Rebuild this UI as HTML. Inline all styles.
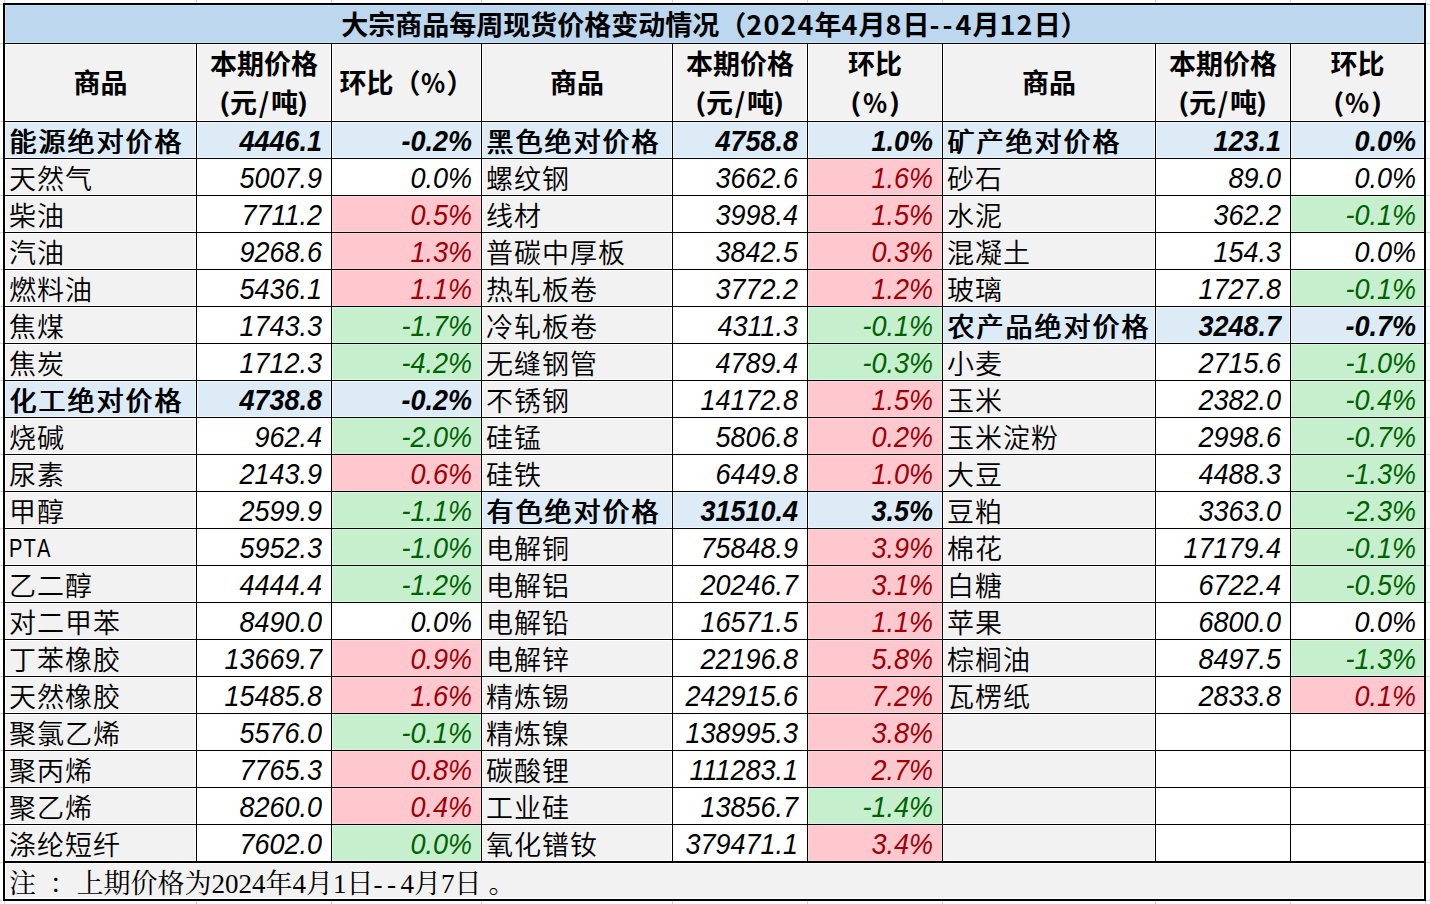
<!DOCTYPE html>
<html lang="zh-CN"><head><meta charset="utf-8">
<title>大宗商品每周现货价格变动情况</title>
<style>
html,body{margin:0;padding:0;background:#fff}
body{width:1430px;height:904px;position:relative;overflow:hidden;color:#000;
 font-family:"Liberation Sans","Noto Sans CJK SC",sans-serif}
.b{position:absolute}
.t{position:absolute;white-space:nowrap;line-height:37px;height:37px;font-size:27px}
.nm{font-family:"Noto Sans CJK SC","Liberation Sans",sans-serif;text-align:left;letter-spacing:1px;font-weight:350}
.nmh{font-family:"Noto Sans CJK SC","Liberation Sans",sans-serif;text-align:left;letter-spacing:2px;text-shadow:1px 0 0 #000}
.lat{display:inline-block;font-family:"Liberation Sans",sans-serif;font-size:25.8px;letter-spacing:1.4px;
 transform:scaleX(.78);transform-origin:0 50%;position:relative;top:-2px;font-kerning:none}
.num{font-family:"Liberation Sans",sans-serif;font-style:italic;text-align:right;transform:scaleY(1.085);transform-origin:50% 8px}
.numh{font-family:"Liberation Sans",sans-serif;font-style:italic;font-weight:700;text-align:right;transform:scaleY(1.085);transform-origin:50% 8px}
.hd{position:absolute;text-align:center;font-weight:700;font-size:27px;white-space:nowrap;
 font-family:"Noto Sans CJK SC","Liberation Sans",sans-serif}
.title{position:absolute;text-align:center;font-weight:700;font-size:27px;white-space:nowrap;
 font-family:"Noto Sans CJK SC","Liberation Sans",sans-serif}
.foot{position:absolute;white-space:nowrap;font-size:27px;font-family:"Liberation Serif","Noto Serif CJK SC",serif}
.sp{display:inline-block;width:13.5px}
.dg{letter-spacing:1.1px}
.hy{letter-spacing:3px}
.sl{padding:0 1.9px}
.l2{position:relative;top:1px}
.pr{display:inline-block;font-size:25px;transform:scaleX(1.2);position:relative;top:-1px}
.pc{display:inline-block;transform:scaleX(.93)}
.end{padding-left:7px}
.dd{letter-spacing:4.5px}

</style></head><body>
<div class="b" style="left:0px;top:4px;width:3px;height:1px;background:#d4d4d4"></div>
<div class="b" style="left:1426px;top:4px;width:4px;height:1px;background:#d4d4d4"></div>
<div class="b" style="left:0px;top:43px;width:3px;height:1px;background:#d4d4d4"></div>
<div class="b" style="left:1426px;top:43px;width:4px;height:1px;background:#d4d4d4"></div>
<div class="b" style="left:0px;top:121px;width:3px;height:1px;background:#d4d4d4"></div>
<div class="b" style="left:1426px;top:121px;width:4px;height:1px;background:#d4d4d4"></div>
<div class="b" style="left:0px;top:158px;width:3px;height:1px;background:#d4d4d4"></div>
<div class="b" style="left:1426px;top:158px;width:4px;height:1px;background:#d4d4d4"></div>
<div class="b" style="left:0px;top:195px;width:3px;height:1px;background:#d4d4d4"></div>
<div class="b" style="left:1426px;top:195px;width:4px;height:1px;background:#d4d4d4"></div>
<div class="b" style="left:0px;top:232px;width:3px;height:1px;background:#d4d4d4"></div>
<div class="b" style="left:1426px;top:232px;width:4px;height:1px;background:#d4d4d4"></div>
<div class="b" style="left:0px;top:269px;width:3px;height:1px;background:#d4d4d4"></div>
<div class="b" style="left:1426px;top:269px;width:4px;height:1px;background:#d4d4d4"></div>
<div class="b" style="left:0px;top:306px;width:3px;height:1px;background:#d4d4d4"></div>
<div class="b" style="left:1426px;top:306px;width:4px;height:1px;background:#d4d4d4"></div>
<div class="b" style="left:0px;top:343px;width:3px;height:1px;background:#d4d4d4"></div>
<div class="b" style="left:1426px;top:343px;width:4px;height:1px;background:#d4d4d4"></div>
<div class="b" style="left:0px;top:380px;width:3px;height:1px;background:#d4d4d4"></div>
<div class="b" style="left:1426px;top:380px;width:4px;height:1px;background:#d4d4d4"></div>
<div class="b" style="left:0px;top:417px;width:3px;height:1px;background:#d4d4d4"></div>
<div class="b" style="left:1426px;top:417px;width:4px;height:1px;background:#d4d4d4"></div>
<div class="b" style="left:0px;top:454px;width:3px;height:1px;background:#d4d4d4"></div>
<div class="b" style="left:1426px;top:454px;width:4px;height:1px;background:#d4d4d4"></div>
<div class="b" style="left:0px;top:491px;width:3px;height:1px;background:#d4d4d4"></div>
<div class="b" style="left:1426px;top:491px;width:4px;height:1px;background:#d4d4d4"></div>
<div class="b" style="left:0px;top:528px;width:3px;height:1px;background:#d4d4d4"></div>
<div class="b" style="left:1426px;top:528px;width:4px;height:1px;background:#d4d4d4"></div>
<div class="b" style="left:0px;top:565px;width:3px;height:1px;background:#d4d4d4"></div>
<div class="b" style="left:1426px;top:565px;width:4px;height:1px;background:#d4d4d4"></div>
<div class="b" style="left:0px;top:602px;width:3px;height:1px;background:#d4d4d4"></div>
<div class="b" style="left:1426px;top:602px;width:4px;height:1px;background:#d4d4d4"></div>
<div class="b" style="left:0px;top:639px;width:3px;height:1px;background:#d4d4d4"></div>
<div class="b" style="left:1426px;top:639px;width:4px;height:1px;background:#d4d4d4"></div>
<div class="b" style="left:0px;top:676px;width:3px;height:1px;background:#d4d4d4"></div>
<div class="b" style="left:1426px;top:676px;width:4px;height:1px;background:#d4d4d4"></div>
<div class="b" style="left:0px;top:713px;width:3px;height:1px;background:#d4d4d4"></div>
<div class="b" style="left:1426px;top:713px;width:4px;height:1px;background:#d4d4d4"></div>
<div class="b" style="left:0px;top:750px;width:3px;height:1px;background:#d4d4d4"></div>
<div class="b" style="left:1426px;top:750px;width:4px;height:1px;background:#d4d4d4"></div>
<div class="b" style="left:0px;top:787px;width:3px;height:1px;background:#d4d4d4"></div>
<div class="b" style="left:1426px;top:787px;width:4px;height:1px;background:#d4d4d4"></div>
<div class="b" style="left:0px;top:824px;width:3px;height:1px;background:#d4d4d4"></div>
<div class="b" style="left:1426px;top:824px;width:4px;height:1px;background:#d4d4d4"></div>
<div class="b" style="left:0px;top:862px;width:3px;height:1px;background:#d4d4d4"></div>
<div class="b" style="left:1426px;top:862px;width:4px;height:1px;background:#d4d4d4"></div>
<div class="b" style="left:0px;top:900px;width:3px;height:1px;background:#d4d4d4"></div>
<div class="b" style="left:1426px;top:900px;width:4px;height:1px;background:#d4d4d4"></div>
<div class="b" style="left:4px;top:0px;width:1px;height:3px;background:#d4d4d4"></div>
<div class="b" style="left:4px;top:901px;width:1px;height:3px;background:#d4d4d4"></div>
<div class="b" style="left:196px;top:0px;width:1px;height:3px;background:#d4d4d4"></div>
<div class="b" style="left:196px;top:901px;width:1px;height:3px;background:#d4d4d4"></div>
<div class="b" style="left:331px;top:0px;width:1px;height:3px;background:#d4d4d4"></div>
<div class="b" style="left:331px;top:901px;width:1px;height:3px;background:#d4d4d4"></div>
<div class="b" style="left:481px;top:0px;width:1px;height:3px;background:#d4d4d4"></div>
<div class="b" style="left:481px;top:901px;width:1px;height:3px;background:#d4d4d4"></div>
<div class="b" style="left:672px;top:0px;width:1px;height:3px;background:#d4d4d4"></div>
<div class="b" style="left:672px;top:901px;width:1px;height:3px;background:#d4d4d4"></div>
<div class="b" style="left:807px;top:0px;width:1px;height:3px;background:#d4d4d4"></div>
<div class="b" style="left:807px;top:901px;width:1px;height:3px;background:#d4d4d4"></div>
<div class="b" style="left:942px;top:0px;width:1px;height:3px;background:#d4d4d4"></div>
<div class="b" style="left:942px;top:901px;width:1px;height:3px;background:#d4d4d4"></div>
<div class="b" style="left:1155px;top:0px;width:1px;height:3px;background:#d4d4d4"></div>
<div class="b" style="left:1155px;top:901px;width:1px;height:3px;background:#d4d4d4"></div>
<div class="b" style="left:1290px;top:0px;width:1px;height:3px;background:#d4d4d4"></div>
<div class="b" style="left:1290px;top:901px;width:1px;height:3px;background:#d4d4d4"></div>
<div class="b" style="left:1425px;top:0px;width:1px;height:3px;background:#d4d4d4"></div>
<div class="b" style="left:1425px;top:901px;width:1px;height:3px;background:#d4d4d4"></div>
<div class="b" style="left:5px;top:5px;width:1419px;height:38px;background:#BDD7EE;box-shadow:inset 0 0 0 1px #C9E2F8"></div>
<div class="b" style="left:5px;top:44px;width:191px;height:77px;background:#F2F2F2;box-shadow:inset 0 0 0 1px #FFFFFF"></div>
<div class="b" style="left:197px;top:44px;width:134px;height:77px;background:#F2F2F2;box-shadow:inset 0 0 0 1px #FFFFFF"></div>
<div class="b" style="left:332px;top:44px;width:149px;height:77px;background:#F2F2F2;box-shadow:inset 0 0 0 1px #FFFFFF"></div>
<div class="b" style="left:482px;top:44px;width:190px;height:77px;background:#F2F2F2;box-shadow:inset 0 0 0 1px #FFFFFF"></div>
<div class="b" style="left:673px;top:44px;width:134px;height:77px;background:#F2F2F2;box-shadow:inset 0 0 0 1px #FFFFFF"></div>
<div class="b" style="left:808px;top:44px;width:134px;height:77px;background:#F2F2F2;box-shadow:inset 0 0 0 1px #FFFFFF"></div>
<div class="b" style="left:943px;top:44px;width:212px;height:77px;background:#F2F2F2;box-shadow:inset 0 0 0 1px #FFFFFF"></div>
<div class="b" style="left:1156px;top:44px;width:134px;height:77px;background:#F2F2F2;box-shadow:inset 0 0 0 1px #FFFFFF"></div>
<div class="b" style="left:1291px;top:44px;width:133px;height:77px;background:#F2F2F2;box-shadow:inset 0 0 0 1px #FFFFFF"></div>
<div class="b" style="left:5px;top:863px;width:1419px;height:36px;background:#F2F2F2;box-shadow:inset 0 0 0 1px #FFFFFF"></div>
<div class="b" style="left:5px;top:122px;width:191px;height:36px;background:#DDEBF7;box-shadow:inset 0 0 0 1px #ECF7FF"></div>
<div class="b" style="left:197px;top:122px;width:134px;height:36px;background:#DDEBF7;box-shadow:inset 0 0 0 1px #ECF7FF"></div>
<div class="b" style="left:332px;top:122px;width:149px;height:36px;background:#DDEBF7;box-shadow:inset 0 0 0 1px #ECF7FF"></div>
<div class="b" style="left:5px;top:159px;width:191px;height:36px;background:#F2F2F2;box-shadow:inset 0 0 0 1px #FFFFFF"></div>
<div class="b" style="left:5px;top:196px;width:191px;height:36px;background:#F2F2F2;box-shadow:inset 0 0 0 1px #FFFFFF"></div>
<div class="b" style="left:332px;top:196px;width:149px;height:36px;background:#FFC7CE;box-shadow:inset 0 0 0 1px #FFD3D9"></div>
<div class="b" style="left:5px;top:233px;width:191px;height:36px;background:#F2F2F2;box-shadow:inset 0 0 0 1px #FFFFFF"></div>
<div class="b" style="left:332px;top:233px;width:149px;height:36px;background:#FFC7CE;box-shadow:inset 0 0 0 1px #FFD3D9"></div>
<div class="b" style="left:5px;top:270px;width:191px;height:36px;background:#F2F2F2;box-shadow:inset 0 0 0 1px #FFFFFF"></div>
<div class="b" style="left:332px;top:270px;width:149px;height:36px;background:#FFC7CE;box-shadow:inset 0 0 0 1px #FFD3D9"></div>
<div class="b" style="left:5px;top:307px;width:191px;height:36px;background:#F2F2F2;box-shadow:inset 0 0 0 1px #FFFFFF"></div>
<div class="b" style="left:332px;top:307px;width:149px;height:36px;background:#C6EFCE;box-shadow:inset 0 0 0 1px #D3F9DA"></div>
<div class="b" style="left:5px;top:344px;width:191px;height:36px;background:#F2F2F2;box-shadow:inset 0 0 0 1px #FFFFFF"></div>
<div class="b" style="left:332px;top:344px;width:149px;height:36px;background:#C6EFCE;box-shadow:inset 0 0 0 1px #D3F9DA"></div>
<div class="b" style="left:5px;top:381px;width:191px;height:36px;background:#DDEBF7;box-shadow:inset 0 0 0 1px #ECF7FF"></div>
<div class="b" style="left:197px;top:381px;width:134px;height:36px;background:#DDEBF7;box-shadow:inset 0 0 0 1px #ECF7FF"></div>
<div class="b" style="left:332px;top:381px;width:149px;height:36px;background:#DDEBF7;box-shadow:inset 0 0 0 1px #ECF7FF"></div>
<div class="b" style="left:5px;top:418px;width:191px;height:36px;background:#F2F2F2;box-shadow:inset 0 0 0 1px #FFFFFF"></div>
<div class="b" style="left:332px;top:418px;width:149px;height:36px;background:#C6EFCE;box-shadow:inset 0 0 0 1px #D3F9DA"></div>
<div class="b" style="left:5px;top:455px;width:191px;height:36px;background:#F2F2F2;box-shadow:inset 0 0 0 1px #FFFFFF"></div>
<div class="b" style="left:332px;top:455px;width:149px;height:36px;background:#FFC7CE;box-shadow:inset 0 0 0 1px #FFD3D9"></div>
<div class="b" style="left:5px;top:492px;width:191px;height:36px;background:#F2F2F2;box-shadow:inset 0 0 0 1px #FFFFFF"></div>
<div class="b" style="left:332px;top:492px;width:149px;height:36px;background:#C6EFCE;box-shadow:inset 0 0 0 1px #D3F9DA"></div>
<div class="b" style="left:5px;top:529px;width:191px;height:36px;background:#F2F2F2;box-shadow:inset 0 0 0 1px #FFFFFF"></div>
<div class="b" style="left:332px;top:529px;width:149px;height:36px;background:#C6EFCE;box-shadow:inset 0 0 0 1px #D3F9DA"></div>
<div class="b" style="left:5px;top:566px;width:191px;height:36px;background:#F2F2F2;box-shadow:inset 0 0 0 1px #FFFFFF"></div>
<div class="b" style="left:332px;top:566px;width:149px;height:36px;background:#C6EFCE;box-shadow:inset 0 0 0 1px #D3F9DA"></div>
<div class="b" style="left:5px;top:603px;width:191px;height:36px;background:#F2F2F2;box-shadow:inset 0 0 0 1px #FFFFFF"></div>
<div class="b" style="left:5px;top:640px;width:191px;height:36px;background:#F2F2F2;box-shadow:inset 0 0 0 1px #FFFFFF"></div>
<div class="b" style="left:332px;top:640px;width:149px;height:36px;background:#FFC7CE;box-shadow:inset 0 0 0 1px #FFD3D9"></div>
<div class="b" style="left:5px;top:677px;width:191px;height:36px;background:#F2F2F2;box-shadow:inset 0 0 0 1px #FFFFFF"></div>
<div class="b" style="left:332px;top:677px;width:149px;height:36px;background:#FFC7CE;box-shadow:inset 0 0 0 1px #FFD3D9"></div>
<div class="b" style="left:5px;top:714px;width:191px;height:36px;background:#F2F2F2;box-shadow:inset 0 0 0 1px #FFFFFF"></div>
<div class="b" style="left:332px;top:714px;width:149px;height:36px;background:#C6EFCE;box-shadow:inset 0 0 0 1px #D3F9DA"></div>
<div class="b" style="left:5px;top:751px;width:191px;height:36px;background:#F2F2F2;box-shadow:inset 0 0 0 1px #FFFFFF"></div>
<div class="b" style="left:332px;top:751px;width:149px;height:36px;background:#FFC7CE;box-shadow:inset 0 0 0 1px #FFD3D9"></div>
<div class="b" style="left:5px;top:788px;width:191px;height:36px;background:#F2F2F2;box-shadow:inset 0 0 0 1px #FFFFFF"></div>
<div class="b" style="left:332px;top:788px;width:149px;height:36px;background:#FFC7CE;box-shadow:inset 0 0 0 1px #FFD3D9"></div>
<div class="b" style="left:5px;top:825px;width:191px;height:36px;background:#F2F2F2;box-shadow:inset 0 0 0 1px #FFFFFF"></div>
<div class="b" style="left:332px;top:825px;width:149px;height:36px;background:#C6EFCE;box-shadow:inset 0 0 0 1px #D3F9DA"></div>
<div class="b" style="left:482px;top:122px;width:190px;height:36px;background:#DDEBF7;box-shadow:inset 0 0 0 1px #ECF7FF"></div>
<div class="b" style="left:673px;top:122px;width:134px;height:36px;background:#DDEBF7;box-shadow:inset 0 0 0 1px #ECF7FF"></div>
<div class="b" style="left:808px;top:122px;width:134px;height:36px;background:#DDEBF7;box-shadow:inset 0 0 0 1px #ECF7FF"></div>
<div class="b" style="left:482px;top:159px;width:190px;height:36px;background:#F2F2F2;box-shadow:inset 0 0 0 1px #FFFFFF"></div>
<div class="b" style="left:808px;top:159px;width:134px;height:36px;background:#FFC7CE;box-shadow:inset 0 0 0 1px #FFD3D9"></div>
<div class="b" style="left:482px;top:196px;width:190px;height:36px;background:#F2F2F2;box-shadow:inset 0 0 0 1px #FFFFFF"></div>
<div class="b" style="left:808px;top:196px;width:134px;height:36px;background:#FFC7CE;box-shadow:inset 0 0 0 1px #FFD3D9"></div>
<div class="b" style="left:482px;top:233px;width:190px;height:36px;background:#F2F2F2;box-shadow:inset 0 0 0 1px #FFFFFF"></div>
<div class="b" style="left:808px;top:233px;width:134px;height:36px;background:#FFC7CE;box-shadow:inset 0 0 0 1px #FFD3D9"></div>
<div class="b" style="left:482px;top:270px;width:190px;height:36px;background:#F2F2F2;box-shadow:inset 0 0 0 1px #FFFFFF"></div>
<div class="b" style="left:808px;top:270px;width:134px;height:36px;background:#FFC7CE;box-shadow:inset 0 0 0 1px #FFD3D9"></div>
<div class="b" style="left:482px;top:307px;width:190px;height:36px;background:#F2F2F2;box-shadow:inset 0 0 0 1px #FFFFFF"></div>
<div class="b" style="left:808px;top:307px;width:134px;height:36px;background:#C6EFCE;box-shadow:inset 0 0 0 1px #D3F9DA"></div>
<div class="b" style="left:482px;top:344px;width:190px;height:36px;background:#F2F2F2;box-shadow:inset 0 0 0 1px #FFFFFF"></div>
<div class="b" style="left:808px;top:344px;width:134px;height:36px;background:#C6EFCE;box-shadow:inset 0 0 0 1px #D3F9DA"></div>
<div class="b" style="left:482px;top:381px;width:190px;height:36px;background:#F2F2F2;box-shadow:inset 0 0 0 1px #FFFFFF"></div>
<div class="b" style="left:808px;top:381px;width:134px;height:36px;background:#FFC7CE;box-shadow:inset 0 0 0 1px #FFD3D9"></div>
<div class="b" style="left:482px;top:418px;width:190px;height:36px;background:#F2F2F2;box-shadow:inset 0 0 0 1px #FFFFFF"></div>
<div class="b" style="left:808px;top:418px;width:134px;height:36px;background:#FFC7CE;box-shadow:inset 0 0 0 1px #FFD3D9"></div>
<div class="b" style="left:482px;top:455px;width:190px;height:36px;background:#F2F2F2;box-shadow:inset 0 0 0 1px #FFFFFF"></div>
<div class="b" style="left:808px;top:455px;width:134px;height:36px;background:#FFC7CE;box-shadow:inset 0 0 0 1px #FFD3D9"></div>
<div class="b" style="left:482px;top:492px;width:190px;height:36px;background:#DDEBF7;box-shadow:inset 0 0 0 1px #ECF7FF"></div>
<div class="b" style="left:673px;top:492px;width:134px;height:36px;background:#DDEBF7;box-shadow:inset 0 0 0 1px #ECF7FF"></div>
<div class="b" style="left:808px;top:492px;width:134px;height:36px;background:#DDEBF7;box-shadow:inset 0 0 0 1px #ECF7FF"></div>
<div class="b" style="left:482px;top:529px;width:190px;height:36px;background:#F2F2F2;box-shadow:inset 0 0 0 1px #FFFFFF"></div>
<div class="b" style="left:808px;top:529px;width:134px;height:36px;background:#FFC7CE;box-shadow:inset 0 0 0 1px #FFD3D9"></div>
<div class="b" style="left:482px;top:566px;width:190px;height:36px;background:#F2F2F2;box-shadow:inset 0 0 0 1px #FFFFFF"></div>
<div class="b" style="left:808px;top:566px;width:134px;height:36px;background:#FFC7CE;box-shadow:inset 0 0 0 1px #FFD3D9"></div>
<div class="b" style="left:482px;top:603px;width:190px;height:36px;background:#F2F2F2;box-shadow:inset 0 0 0 1px #FFFFFF"></div>
<div class="b" style="left:808px;top:603px;width:134px;height:36px;background:#FFC7CE;box-shadow:inset 0 0 0 1px #FFD3D9"></div>
<div class="b" style="left:482px;top:640px;width:190px;height:36px;background:#F2F2F2;box-shadow:inset 0 0 0 1px #FFFFFF"></div>
<div class="b" style="left:808px;top:640px;width:134px;height:36px;background:#FFC7CE;box-shadow:inset 0 0 0 1px #FFD3D9"></div>
<div class="b" style="left:482px;top:677px;width:190px;height:36px;background:#F2F2F2;box-shadow:inset 0 0 0 1px #FFFFFF"></div>
<div class="b" style="left:808px;top:677px;width:134px;height:36px;background:#FFC7CE;box-shadow:inset 0 0 0 1px #FFD3D9"></div>
<div class="b" style="left:482px;top:714px;width:190px;height:36px;background:#F2F2F2;box-shadow:inset 0 0 0 1px #FFFFFF"></div>
<div class="b" style="left:808px;top:714px;width:134px;height:36px;background:#FFC7CE;box-shadow:inset 0 0 0 1px #FFD3D9"></div>
<div class="b" style="left:482px;top:751px;width:190px;height:36px;background:#F2F2F2;box-shadow:inset 0 0 0 1px #FFFFFF"></div>
<div class="b" style="left:808px;top:751px;width:134px;height:36px;background:#FFC7CE;box-shadow:inset 0 0 0 1px #FFD3D9"></div>
<div class="b" style="left:482px;top:788px;width:190px;height:36px;background:#F2F2F2;box-shadow:inset 0 0 0 1px #FFFFFF"></div>
<div class="b" style="left:808px;top:788px;width:134px;height:36px;background:#C6EFCE;box-shadow:inset 0 0 0 1px #D3F9DA"></div>
<div class="b" style="left:482px;top:825px;width:190px;height:36px;background:#F2F2F2;box-shadow:inset 0 0 0 1px #FFFFFF"></div>
<div class="b" style="left:808px;top:825px;width:134px;height:36px;background:#FFC7CE;box-shadow:inset 0 0 0 1px #FFD3D9"></div>
<div class="b" style="left:943px;top:122px;width:212px;height:36px;background:#DDEBF7;box-shadow:inset 0 0 0 1px #ECF7FF"></div>
<div class="b" style="left:1156px;top:122px;width:134px;height:36px;background:#DDEBF7;box-shadow:inset 0 0 0 1px #ECF7FF"></div>
<div class="b" style="left:1291px;top:122px;width:133px;height:36px;background:#DDEBF7;box-shadow:inset 0 0 0 1px #ECF7FF"></div>
<div class="b" style="left:943px;top:159px;width:212px;height:36px;background:#F2F2F2;box-shadow:inset 0 0 0 1px #FFFFFF"></div>
<div class="b" style="left:943px;top:196px;width:212px;height:36px;background:#F2F2F2;box-shadow:inset 0 0 0 1px #FFFFFF"></div>
<div class="b" style="left:1291px;top:196px;width:133px;height:36px;background:#C6EFCE;box-shadow:inset 0 0 0 1px #D3F9DA"></div>
<div class="b" style="left:943px;top:233px;width:212px;height:36px;background:#F2F2F2;box-shadow:inset 0 0 0 1px #FFFFFF"></div>
<div class="b" style="left:943px;top:270px;width:212px;height:36px;background:#F2F2F2;box-shadow:inset 0 0 0 1px #FFFFFF"></div>
<div class="b" style="left:1291px;top:270px;width:133px;height:36px;background:#C6EFCE;box-shadow:inset 0 0 0 1px #D3F9DA"></div>
<div class="b" style="left:943px;top:307px;width:212px;height:36px;background:#DDEBF7;box-shadow:inset 0 0 0 1px #ECF7FF"></div>
<div class="b" style="left:1156px;top:307px;width:134px;height:36px;background:#DDEBF7;box-shadow:inset 0 0 0 1px #ECF7FF"></div>
<div class="b" style="left:1291px;top:307px;width:133px;height:36px;background:#DDEBF7;box-shadow:inset 0 0 0 1px #ECF7FF"></div>
<div class="b" style="left:943px;top:344px;width:212px;height:36px;background:#F2F2F2;box-shadow:inset 0 0 0 1px #FFFFFF"></div>
<div class="b" style="left:1291px;top:344px;width:133px;height:36px;background:#C6EFCE;box-shadow:inset 0 0 0 1px #D3F9DA"></div>
<div class="b" style="left:943px;top:381px;width:212px;height:36px;background:#F2F2F2;box-shadow:inset 0 0 0 1px #FFFFFF"></div>
<div class="b" style="left:1291px;top:381px;width:133px;height:36px;background:#C6EFCE;box-shadow:inset 0 0 0 1px #D3F9DA"></div>
<div class="b" style="left:943px;top:418px;width:212px;height:36px;background:#F2F2F2;box-shadow:inset 0 0 0 1px #FFFFFF"></div>
<div class="b" style="left:1291px;top:418px;width:133px;height:36px;background:#C6EFCE;box-shadow:inset 0 0 0 1px #D3F9DA"></div>
<div class="b" style="left:943px;top:455px;width:212px;height:36px;background:#F2F2F2;box-shadow:inset 0 0 0 1px #FFFFFF"></div>
<div class="b" style="left:1291px;top:455px;width:133px;height:36px;background:#C6EFCE;box-shadow:inset 0 0 0 1px #D3F9DA"></div>
<div class="b" style="left:943px;top:492px;width:212px;height:36px;background:#F2F2F2;box-shadow:inset 0 0 0 1px #FFFFFF"></div>
<div class="b" style="left:1291px;top:492px;width:133px;height:36px;background:#C6EFCE;box-shadow:inset 0 0 0 1px #D3F9DA"></div>
<div class="b" style="left:943px;top:529px;width:212px;height:36px;background:#F2F2F2;box-shadow:inset 0 0 0 1px #FFFFFF"></div>
<div class="b" style="left:1291px;top:529px;width:133px;height:36px;background:#C6EFCE;box-shadow:inset 0 0 0 1px #D3F9DA"></div>
<div class="b" style="left:943px;top:566px;width:212px;height:36px;background:#F2F2F2;box-shadow:inset 0 0 0 1px #FFFFFF"></div>
<div class="b" style="left:1291px;top:566px;width:133px;height:36px;background:#C6EFCE;box-shadow:inset 0 0 0 1px #D3F9DA"></div>
<div class="b" style="left:943px;top:603px;width:212px;height:36px;background:#F2F2F2;box-shadow:inset 0 0 0 1px #FFFFFF"></div>
<div class="b" style="left:943px;top:640px;width:212px;height:36px;background:#F2F2F2;box-shadow:inset 0 0 0 1px #FFFFFF"></div>
<div class="b" style="left:1291px;top:640px;width:133px;height:36px;background:#C6EFCE;box-shadow:inset 0 0 0 1px #D3F9DA"></div>
<div class="b" style="left:943px;top:677px;width:212px;height:36px;background:#F2F2F2;box-shadow:inset 0 0 0 1px #FFFFFF"></div>
<div class="b" style="left:1291px;top:677px;width:133px;height:36px;background:#FFC7CE;box-shadow:inset 0 0 0 1px #FFD3D9"></div>
<div class="b" style="left:943px;top:714px;width:212px;height:36px;background:#F2F2F2;box-shadow:inset 0 0 0 1px #FFFFFF"></div>
<div class="b" style="left:943px;top:751px;width:212px;height:36px;background:#F2F2F2;box-shadow:inset 0 0 0 1px #FFFFFF"></div>
<div class="b" style="left:943px;top:788px;width:212px;height:36px;background:#F2F2F2;box-shadow:inset 0 0 0 1px #FFFFFF"></div>
<div class="b" style="left:943px;top:825px;width:212px;height:36px;background:#F2F2F2;box-shadow:inset 0 0 0 1px #FFFFFF"></div>
<div class="b" style="left:3px;top:3px;width:1423px;height:2px;background:#000"></div>
<div class="b" style="left:3px;top:899px;width:1423px;height:2px;background:#000"></div>
<div class="b" style="left:3px;top:3px;width:2px;height:898px;background:#000"></div>
<div class="b" style="left:1424px;top:3px;width:2px;height:898px;background:#000"></div>
<div class="b" style="left:3px;top:43px;width:1423px;height:1px;background:#000"></div>
<div class="b" style="left:3px;top:121px;width:1423px;height:1px;background:#000"></div>
<div class="b" style="left:3px;top:158px;width:1423px;height:1px;background:#000"></div>
<div class="b" style="left:3px;top:195px;width:1423px;height:1px;background:#000"></div>
<div class="b" style="left:3px;top:232px;width:1423px;height:1px;background:#000"></div>
<div class="b" style="left:3px;top:269px;width:1423px;height:1px;background:#000"></div>
<div class="b" style="left:3px;top:306px;width:1423px;height:1px;background:#000"></div>
<div class="b" style="left:3px;top:343px;width:1423px;height:1px;background:#000"></div>
<div class="b" style="left:3px;top:380px;width:1423px;height:1px;background:#000"></div>
<div class="b" style="left:3px;top:417px;width:1423px;height:1px;background:#000"></div>
<div class="b" style="left:3px;top:454px;width:1423px;height:1px;background:#000"></div>
<div class="b" style="left:3px;top:491px;width:1423px;height:1px;background:#000"></div>
<div class="b" style="left:3px;top:528px;width:1423px;height:1px;background:#000"></div>
<div class="b" style="left:3px;top:565px;width:1423px;height:1px;background:#000"></div>
<div class="b" style="left:3px;top:602px;width:1423px;height:1px;background:#000"></div>
<div class="b" style="left:3px;top:639px;width:1423px;height:1px;background:#000"></div>
<div class="b" style="left:3px;top:676px;width:1423px;height:1px;background:#000"></div>
<div class="b" style="left:3px;top:713px;width:1423px;height:1px;background:#000"></div>
<div class="b" style="left:3px;top:750px;width:1423px;height:1px;background:#000"></div>
<div class="b" style="left:3px;top:787px;width:1423px;height:1px;background:#000"></div>
<div class="b" style="left:3px;top:824px;width:1423px;height:1px;background:#000"></div>
<div class="b" style="left:3px;top:861px;width:1423px;height:2px;background:#000"></div>
<div class="b" style="left:196px;top:43px;width:1px;height:818px;background:#000"></div>
<div class="b" style="left:331px;top:43px;width:1px;height:818px;background:#000"></div>
<div class="b" style="left:481px;top:43px;width:1px;height:818px;background:#000"></div>
<div class="b" style="left:672px;top:43px;width:1px;height:818px;background:#000"></div>
<div class="b" style="left:807px;top:43px;width:1px;height:818px;background:#000"></div>
<div class="b" style="left:942px;top:43px;width:1px;height:818px;background:#000"></div>
<div class="b" style="left:1155px;top:43px;width:1px;height:818px;background:#000"></div>
<div class="b" style="left:1290px;top:43px;width:1px;height:818px;background:#000"></div>
<div class="title" id="title" style="left:5px;top:5px;width:1419px;height:38px;line-height:38px">大宗商品每周现货价格变动情况（<span class="dg">2024</span>年<span class="dg">4</span>月<span class="dg">8</span>日<span class="hy">--</span><span class="dg">4</span>月<span class="dg">12</span>日）</div>
<div class="hd" id="h0" style="left:5px;top:43px;width:191px;height:77px;line-height:77px">商品</div>
<div class="hd" id="h1" style="left:197px;top:44px;width:134px;height:77px;line-height:38px">本期价格<br><span class="l2"><span class="pr">(</span>元<span class="sl">/</span>吨<span class="pr">)</span></span></div>
<div class="hd" id="h2" style="left:332px;top:43px;width:149px;height:77px;line-height:77px">环比（<span class="pc">%</span>）</div>
<div class="hd" id="h3" style="left:482px;top:43px;width:190px;height:77px;line-height:77px">商品</div>
<div class="hd" id="h4" style="left:673px;top:44px;width:134px;height:77px;line-height:38px">本期价格<br><span class="l2"><span class="pr">(</span>元<span class="sl">/</span>吨<span class="pr">)</span></span></div>
<div class="hd" id="h5" style="left:808px;top:44px;width:134px;height:77px;line-height:38px">环比<br><span class="l2"><span class="pr">(</span><span class="pc" style="margin:0 1.5px">%</span><span class="pr">)</span></span></div>
<div class="hd" id="h6" style="left:943px;top:43px;width:212px;height:77px;line-height:77px">商品</div>
<div class="hd" id="h7" style="left:1156px;top:44px;width:134px;height:77px;line-height:38px">本期价格<br><span class="l2"><span class="pr">(</span>元<span class="sl">/</span>吨<span class="pr">)</span></span></div>
<div class="hd" id="h8" style="left:1291px;top:44px;width:133px;height:77px;line-height:38px">环比<br><span class="l2"><span class="pr">(</span><span class="pc" style="margin:0 1.5px">%</span><span class="pr">)</span></span></div>
<div class="t nmh" style="left:9px;top:122px;width:187px">能源绝对价格</div>
<div class="t numh" style="left:197px;top:122px;width:125px">4446.1</div>
<div class="t numh" style="left:332px;top:122px;width:140px">-0.2%</div>
<div class="t nm" style="left:9px;top:159px;width:187px">天然气</div>
<div class="t num" style="left:197px;top:159px;width:125px">5007.9</div>
<div class="t num" style="left:332px;top:159px;width:140px">0.0%</div>
<div class="t nm" style="left:9px;top:196px;width:187px">柴油</div>
<div class="t num" style="left:197px;top:196px;width:125px">7711.2</div>
<div class="t num" style="left:332px;top:196px;width:140px;color:#9C0006">0.5%</div>
<div class="t nm" style="left:9px;top:233px;width:187px">汽油</div>
<div class="t num" style="left:197px;top:233px;width:125px">9268.6</div>
<div class="t num" style="left:332px;top:233px;width:140px;color:#9C0006">1.3%</div>
<div class="t nm" style="left:9px;top:270px;width:187px">燃料油</div>
<div class="t num" style="left:197px;top:270px;width:125px">5436.1</div>
<div class="t num" style="left:332px;top:270px;width:140px;color:#9C0006">1.1%</div>
<div class="t nm" style="left:9px;top:307px;width:187px">焦煤</div>
<div class="t num" style="left:197px;top:307px;width:125px">1743.3</div>
<div class="t num" style="left:332px;top:307px;width:140px;color:#006100">-1.7%</div>
<div class="t nm" style="left:9px;top:344px;width:187px">焦炭</div>
<div class="t num" style="left:197px;top:344px;width:125px">1712.3</div>
<div class="t num" style="left:332px;top:344px;width:140px;color:#006100">-4.2%</div>
<div class="t nmh" style="left:9px;top:381px;width:187px">化工绝对价格</div>
<div class="t numh" style="left:197px;top:381px;width:125px">4738.8</div>
<div class="t numh" style="left:332px;top:381px;width:140px">-0.2%</div>
<div class="t nm" style="left:9px;top:418px;width:187px">烧碱</div>
<div class="t num" style="left:197px;top:418px;width:125px">962.4</div>
<div class="t num" style="left:332px;top:418px;width:140px;color:#006100">-2.0%</div>
<div class="t nm" style="left:9px;top:455px;width:187px">尿素</div>
<div class="t num" style="left:197px;top:455px;width:125px">2143.9</div>
<div class="t num" style="left:332px;top:455px;width:140px;color:#9C0006">0.6%</div>
<div class="t nm" style="left:9px;top:492px;width:187px">甲醇</div>
<div class="t num" style="left:197px;top:492px;width:125px">2599.9</div>
<div class="t num" style="left:332px;top:492px;width:140px;color:#006100">-1.1%</div>
<div class="t nm" style="left:9px;top:529px;width:187px"><span class="lat">PTA</span></div>
<div class="t num" style="left:197px;top:529px;width:125px">5952.3</div>
<div class="t num" style="left:332px;top:529px;width:140px;color:#006100">-1.0%</div>
<div class="t nm" style="left:9px;top:566px;width:187px">乙二醇</div>
<div class="t num" style="left:197px;top:566px;width:125px">4444.4</div>
<div class="t num" style="left:332px;top:566px;width:140px;color:#006100">-1.2%</div>
<div class="t nm" style="left:9px;top:603px;width:187px">对二甲苯</div>
<div class="t num" style="left:197px;top:603px;width:125px">8490.0</div>
<div class="t num" style="left:332px;top:603px;width:140px">0.0%</div>
<div class="t nm" style="left:9px;top:640px;width:187px">丁苯橡胶</div>
<div class="t num" style="left:197px;top:640px;width:125px">13669.7</div>
<div class="t num" style="left:332px;top:640px;width:140px;color:#9C0006">0.9%</div>
<div class="t nm" style="left:9px;top:677px;width:187px">天然橡胶</div>
<div class="t num" style="left:197px;top:677px;width:125px">15485.8</div>
<div class="t num" style="left:332px;top:677px;width:140px;color:#9C0006">1.6%</div>
<div class="t nm" style="left:9px;top:714px;width:187px">聚氯乙烯</div>
<div class="t num" style="left:197px;top:714px;width:125px">5576.0</div>
<div class="t num" style="left:332px;top:714px;width:140px;color:#006100">-0.1%</div>
<div class="t nm" style="left:9px;top:751px;width:187px">聚丙烯</div>
<div class="t num" style="left:197px;top:751px;width:125px">7765.3</div>
<div class="t num" style="left:332px;top:751px;width:140px;color:#9C0006">0.8%</div>
<div class="t nm" style="left:9px;top:788px;width:187px">聚乙烯</div>
<div class="t num" style="left:197px;top:788px;width:125px">8260.0</div>
<div class="t num" style="left:332px;top:788px;width:140px;color:#9C0006">0.4%</div>
<div class="t nm" style="left:9px;top:825px;width:187px">涤纶短纤</div>
<div class="t num" style="left:197px;top:825px;width:125px">7602.0</div>
<div class="t num" style="left:332px;top:825px;width:140px;color:#006100">0.0%</div>
<div class="t nmh" style="left:486px;top:122px;width:186px">黑色绝对价格</div>
<div class="t numh" style="left:673px;top:122px;width:125px">4758.8</div>
<div class="t numh" style="left:808px;top:122px;width:125px">1.0%</div>
<div class="t nm" style="left:486px;top:159px;width:186px">螺纹钢</div>
<div class="t num" style="left:673px;top:159px;width:125px">3662.6</div>
<div class="t num" style="left:808px;top:159px;width:125px;color:#9C0006">1.6%</div>
<div class="t nm" style="left:486px;top:196px;width:186px">线材</div>
<div class="t num" style="left:673px;top:196px;width:125px">3998.4</div>
<div class="t num" style="left:808px;top:196px;width:125px;color:#9C0006">1.5%</div>
<div class="t nm" style="left:486px;top:233px;width:186px">普碳中厚板</div>
<div class="t num" style="left:673px;top:233px;width:125px">3842.5</div>
<div class="t num" style="left:808px;top:233px;width:125px;color:#9C0006">0.3%</div>
<div class="t nm" style="left:486px;top:270px;width:186px">热轧板卷</div>
<div class="t num" style="left:673px;top:270px;width:125px">3772.2</div>
<div class="t num" style="left:808px;top:270px;width:125px;color:#9C0006">1.2%</div>
<div class="t nm" style="left:486px;top:307px;width:186px">冷轧板卷</div>
<div class="t num" style="left:673px;top:307px;width:125px">4311.3</div>
<div class="t num" style="left:808px;top:307px;width:125px;color:#006100">-0.1%</div>
<div class="t nm" style="left:486px;top:344px;width:186px">无缝钢管</div>
<div class="t num" style="left:673px;top:344px;width:125px">4789.4</div>
<div class="t num" style="left:808px;top:344px;width:125px;color:#006100">-0.3%</div>
<div class="t nm" style="left:486px;top:381px;width:186px">不锈钢</div>
<div class="t num" style="left:673px;top:381px;width:125px">14172.8</div>
<div class="t num" style="left:808px;top:381px;width:125px;color:#9C0006">1.5%</div>
<div class="t nm" style="left:486px;top:418px;width:186px">硅锰</div>
<div class="t num" style="left:673px;top:418px;width:125px">5806.8</div>
<div class="t num" style="left:808px;top:418px;width:125px;color:#9C0006">0.2%</div>
<div class="t nm" style="left:486px;top:455px;width:186px">硅铁</div>
<div class="t num" style="left:673px;top:455px;width:125px">6449.8</div>
<div class="t num" style="left:808px;top:455px;width:125px;color:#9C0006">1.0%</div>
<div class="t nmh" style="left:486px;top:492px;width:186px">有色绝对价格</div>
<div class="t numh" style="left:673px;top:492px;width:125px">31510.4</div>
<div class="t numh" style="left:808px;top:492px;width:125px">3.5%</div>
<div class="t nm" style="left:486px;top:529px;width:186px">电解铜</div>
<div class="t num" style="left:673px;top:529px;width:125px">75848.9</div>
<div class="t num" style="left:808px;top:529px;width:125px;color:#9C0006">3.9%</div>
<div class="t nm" style="left:486px;top:566px;width:186px">电解铝</div>
<div class="t num" style="left:673px;top:566px;width:125px">20246.7</div>
<div class="t num" style="left:808px;top:566px;width:125px;color:#9C0006">3.1%</div>
<div class="t nm" style="left:486px;top:603px;width:186px">电解铅</div>
<div class="t num" style="left:673px;top:603px;width:125px">16571.5</div>
<div class="t num" style="left:808px;top:603px;width:125px;color:#9C0006">1.1%</div>
<div class="t nm" style="left:486px;top:640px;width:186px">电解锌</div>
<div class="t num" style="left:673px;top:640px;width:125px">22196.8</div>
<div class="t num" style="left:808px;top:640px;width:125px;color:#9C0006">5.8%</div>
<div class="t nm" style="left:486px;top:677px;width:186px">精炼锡</div>
<div class="t num" style="left:673px;top:677px;width:125px">242915.6</div>
<div class="t num" style="left:808px;top:677px;width:125px;color:#9C0006">7.2%</div>
<div class="t nm" style="left:486px;top:714px;width:186px">精炼镍</div>
<div class="t num" style="left:673px;top:714px;width:125px">138995.3</div>
<div class="t num" style="left:808px;top:714px;width:125px;color:#9C0006">3.8%</div>
<div class="t nm" style="left:486px;top:751px;width:186px">碳酸锂</div>
<div class="t num" style="left:673px;top:751px;width:125px">111283.1</div>
<div class="t num" style="left:808px;top:751px;width:125px;color:#9C0006">2.7%</div>
<div class="t nm" style="left:486px;top:788px;width:186px">工业硅</div>
<div class="t num" style="left:673px;top:788px;width:125px">13856.7</div>
<div class="t num" style="left:808px;top:788px;width:125px;color:#006100">-1.4%</div>
<div class="t nm" style="left:486px;top:825px;width:186px">氧化镨钕</div>
<div class="t num" style="left:673px;top:825px;width:125px">379471.1</div>
<div class="t num" style="left:808px;top:825px;width:125px;color:#9C0006">3.4%</div>
<div class="t nmh" style="left:947px;top:122px;width:208px">矿产绝对价格</div>
<div class="t numh" style="left:1156px;top:122px;width:125px">123.1</div>
<div class="t numh" style="left:1291px;top:122px;width:125px">0.0%</div>
<div class="t nm" style="left:947px;top:159px;width:208px">砂石</div>
<div class="t num" style="left:1156px;top:159px;width:125px">89.0</div>
<div class="t num" style="left:1291px;top:159px;width:125px">0.0%</div>
<div class="t nm" style="left:947px;top:196px;width:208px">水泥</div>
<div class="t num" style="left:1156px;top:196px;width:125px">362.2</div>
<div class="t num" style="left:1291px;top:196px;width:125px;color:#006100">-0.1%</div>
<div class="t nm" style="left:947px;top:233px;width:208px">混凝土</div>
<div class="t num" style="left:1156px;top:233px;width:125px">154.3</div>
<div class="t num" style="left:1291px;top:233px;width:125px">0.0%</div>
<div class="t nm" style="left:947px;top:270px;width:208px">玻璃</div>
<div class="t num" style="left:1156px;top:270px;width:125px">1727.8</div>
<div class="t num" style="left:1291px;top:270px;width:125px;color:#006100">-0.1%</div>
<div class="t nmh" style="left:947px;top:307px;width:208px">农产品绝对价格</div>
<div class="t numh" style="left:1156px;top:307px;width:125px">3248.7</div>
<div class="t numh" style="left:1291px;top:307px;width:125px">-0.7%</div>
<div class="t nm" style="left:947px;top:344px;width:208px">小麦</div>
<div class="t num" style="left:1156px;top:344px;width:125px">2715.6</div>
<div class="t num" style="left:1291px;top:344px;width:125px;color:#006100">-1.0%</div>
<div class="t nm" style="left:947px;top:381px;width:208px">玉米</div>
<div class="t num" style="left:1156px;top:381px;width:125px">2382.0</div>
<div class="t num" style="left:1291px;top:381px;width:125px;color:#006100">-0.4%</div>
<div class="t nm" style="left:947px;top:418px;width:208px">玉米淀粉</div>
<div class="t num" style="left:1156px;top:418px;width:125px">2998.6</div>
<div class="t num" style="left:1291px;top:418px;width:125px;color:#006100">-0.7%</div>
<div class="t nm" style="left:947px;top:455px;width:208px">大豆</div>
<div class="t num" style="left:1156px;top:455px;width:125px">4488.3</div>
<div class="t num" style="left:1291px;top:455px;width:125px;color:#006100">-1.3%</div>
<div class="t nm" style="left:947px;top:492px;width:208px">豆粕</div>
<div class="t num" style="left:1156px;top:492px;width:125px">3363.0</div>
<div class="t num" style="left:1291px;top:492px;width:125px;color:#006100">-2.3%</div>
<div class="t nm" style="left:947px;top:529px;width:208px">棉花</div>
<div class="t num" style="left:1156px;top:529px;width:125px">17179.4</div>
<div class="t num" style="left:1291px;top:529px;width:125px;color:#006100">-0.1%</div>
<div class="t nm" style="left:947px;top:566px;width:208px">白糖</div>
<div class="t num" style="left:1156px;top:566px;width:125px">6722.4</div>
<div class="t num" style="left:1291px;top:566px;width:125px;color:#006100">-0.5%</div>
<div class="t nm" style="left:947px;top:603px;width:208px">苹果</div>
<div class="t num" style="left:1156px;top:603px;width:125px">6800.0</div>
<div class="t num" style="left:1291px;top:603px;width:125px">0.0%</div>
<div class="t nm" style="left:947px;top:640px;width:208px">棕榈油</div>
<div class="t num" style="left:1156px;top:640px;width:125px">8497.5</div>
<div class="t num" style="left:1291px;top:640px;width:125px;color:#006100">-1.3%</div>
<div class="t nm" style="left:947px;top:677px;width:208px">瓦楞纸</div>
<div class="t num" style="left:1156px;top:677px;width:125px">2833.8</div>
<div class="t num" style="left:1291px;top:677px;width:125px;color:#9C0006">0.1%</div>
<div class="foot" id="foot" style="left:9px;top:866px;height:36px;line-height:36px">注<span class="sp">&nbsp;</span>：上期价格为2024年4月1日<span class="dd">--</span>4月7日<span class="end">。</span></div>
</body></html>
